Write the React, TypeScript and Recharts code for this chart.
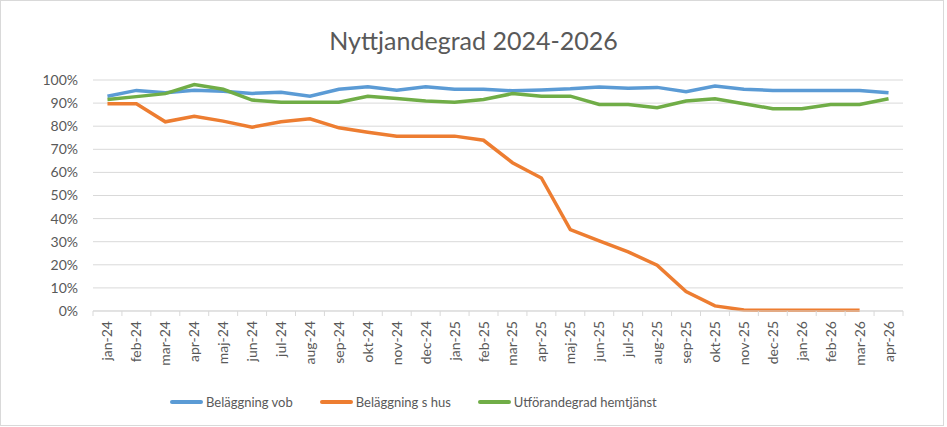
import { LineChart, Line, XAxis, YAxis, CartesianGrid, Legend } from 'recharts';

const months = [
  'jan-24', 'feb-24', 'mar-24', 'apr-24', 'maj-24', 'jun-24', 'jul-24', 'aug-24', 'sep-24', 'okt-24', 'nov-24', 'dec-24',
  'jan-25', 'feb-25', 'mar-25', 'apr-25', 'maj-25', 'jun-25', 'jul-25', 'aug-25', 'sep-25', 'okt-25', 'nov-25', 'dec-25',
  'jan-26', 'feb-26', 'mar-26', 'apr-26',
];

const belaggningVob = [
  93.0, 95.5, 94.5, 95.6, 95.1, 94.2, 94.7, 93.0, 96.0, 97.1, 95.6, 97.1,
  96.0, 96.0, 95.3, 95.7, 96.2, 97.0, 96.4, 96.8, 94.9, 97.4, 96.0, 95.5,
  95.5, 95.5, 95.5, 94.5,
];

const belaggningSHus: (number | null)[] = [
  89.7, 89.7, 81.9, 84.3, 82.2, 79.6, 81.9, 83.2, 79.3, 77.4, 75.7, 75.7,
  75.7, 73.9, 64.2, 57.6, 35.2, 30.4, 25.6, 19.8, 8.4, 2.2, 0.4, 0.3,
  0.3, 0.3, 0.3, null,
];

const utforandegrad = [
  91.6, 92.8, 94.1, 98.0, 96.0, 91.3, 90.4, 90.4, 90.4, 93.0, 92.0, 90.9,
  90.4, 91.6, 94.1, 93.0, 93.0, 89.4, 89.4, 88.0, 90.9, 91.9, 89.7, 87.6,
  87.6, 89.4, 89.4, 91.9,
];

const yTicks = [0, 10, 20, 30, 40, 50, 60, 70, 80, 90, 100];

const data = months.map((m, i) => ({
  month: m,
  vob: belaggningVob[i],
  shus: belaggningSHus[i],
  utf: utforandegrad[i],
}));

const series = [
  { key: 'vob', name: 'Beläggning vob', color: '#5B9BD5' },
  { key: 'shus', name: 'Beläggning s hus', color: '#ED7D31' },
  { key: 'utf', name: 'Utförandegrad hemtjänst', color: '#70AD47' },
];

const FONT = 'Lato, "Liberation Sans", sans-serif';
const TEXT = '#595959';
const GRID = '#d9d9d9';
const PLOT_LEFT = 93;
const PLOT_RIGHT = 903;
const BAND = (PLOT_RIGHT - PLOT_LEFT) / months.length;

function MonthTick(props: any) {
  const { x, y, payload, index } = props;
  const bx = x - BAND / 2;
  return (
    <g>
      <line x1={bx} x2={bx} y1={y} y2={y + 5} stroke={GRID} />
      {index === months.length - 1 && (
        <line x1={x + BAND / 2} x2={x + BAND / 2} y1={y} y2={y + 5} stroke={GRID} />
      )}
      <text
        transform={`translate(${x + 5},${y + 10}) rotate(-90)`}
        textAnchor="end"
        fontSize={14}
        fill={TEXT}
        fontFamily={FONT}
      >
        {payload.value}
      </text>
    </g>
  );
}

function LegendBox() {
  return (
    <div style={{ display: 'flex', alignItems: 'center', height: 30, paddingLeft: 170, fontFamily: FONT, fontSize: 13, color: TEXT }}>
      {series.map((s) => (
        <div key={s.key} style={{ display: 'flex', alignItems: 'center', marginRight: 27 }}>
          <span style={{ display: 'inline-block', width: 33, height: 4, borderRadius: 2, background: s.color, marginRight: 3 }} />
          <span>{s.name}</span>
        </div>
      ))}
    </div>
  );
}

export default function App() {
  return (
    <div style={{ position: 'absolute', left: 0, top: 0, width: 947, height: 427, background: '#fff' }}>
      <div style={{ position: 'absolute', left: 0, top: 0, width: 942, height: 424, border: `1px solid ${GRID}` }} />
      <div
        style={{
          position: 'absolute', left: 0, top: 25, width: 947, textAlign: 'center',
          fontFamily: FONT, fontSize: 25, color: TEXT, lineHeight: '30px',
        }}
      >
        Nyttjandegrad 2024-2026
      </div>
      <LineChart width={947} height={427} data={data} margin={{ top: 80, right: 947 - PLOT_RIGHT, left: 0, bottom: 10 }}>
        <CartesianGrid vertical={false} stroke={GRID} />
        <XAxis
          dataKey="month"
          interval={0}
          height={76}
          padding={{ left: BAND / 2, right: BAND / 2 }}
          tickLine={false}
          tickSize={0}
          tickMargin={0}
          stroke={GRID}
          tick={<MonthTick />}
        />
        <YAxis
          width={PLOT_LEFT}
          domain={[0, 100]}
          ticks={yTicks}
          tickFormatter={(v: number) => `${v}%`}
          axisLine={false}
          tickLine={false}
          tickSize={6}
          tickMargin={9}
          tick={{ fontSize: 14, fill: TEXT, fontFamily: FONT }}
        />
        <Legend verticalAlign="bottom" content={<LegendBox />} />
        {series.map((s) => (
          <Line
            key={s.key}
            dataKey={s.key}
            name={s.name}
            stroke={s.color}
            strokeWidth={3.5}
            dot={false}
            type="linear"
            isAnimationActive={false}
          />
        ))}
      </LineChart>
    </div>
  );
}
